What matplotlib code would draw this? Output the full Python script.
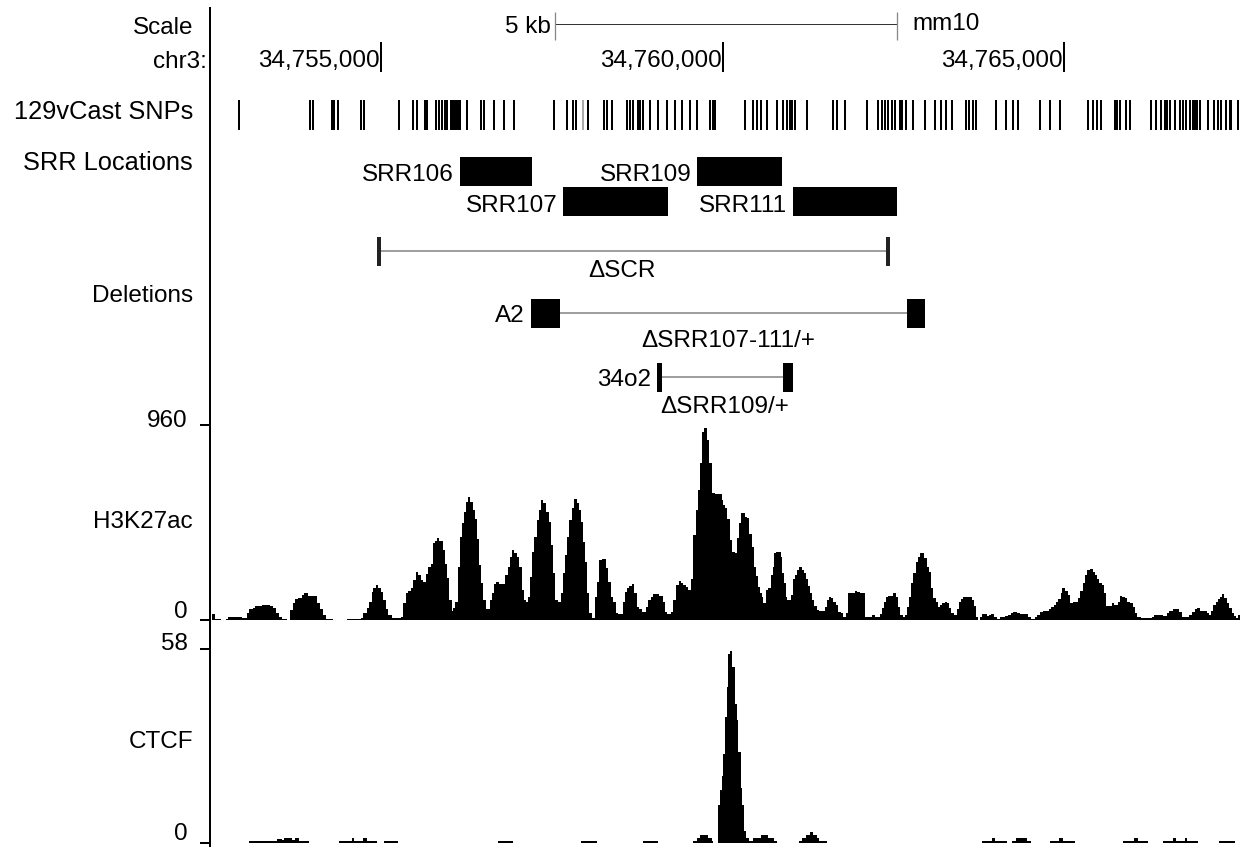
import numpy as np
import matplotlib
matplotlib.use("Agg")
import matplotlib.pyplot as plt

plt.rcParams['font.family'] = ['Liberation Sans', 'DejaVu Sans']
FS = 17.5

# ---------------- data ----------------
CHROM = "chr3"
ASSEMBLY = "mm10"
WIN_START = 34752526
WIN_END = 34767576

ruler_ticks = [34755000, 34760000, 34765000]
scale_bar_start = 34757547
scale_bar_end = 34762554
scale_bar_label = "5 kb"

snp_positions = [
    34752917, 34753961, 34754004, 34754283, 34754312, 34754370, 34754707, 34754751,
    34755259, 34755468, 34755527, 34755649, 34755673, 34755805, 34755845, 34755893,
    34755941, 34755966, 34756025, 34756047, 34756069, 34756091, 34756113, 34756142,
    34756164, 34756259, 34756468, 34756504, 34756650, 34756796, 34756943, 34757528,
    34757719, 34757815, 34757855, 34758035, 34758265, 34758304, 34758377, 34758601,
    34758645, 34758694, 34758767, 34758792, 34758840, 34758938, 34759060, 34759183,
    34759304, 34759402, 34759524, 34759622, 34759817, 34759860, 34759890, 34760329,
    34760450, 34760509, 34760559, 34760647, 34760793, 34760890, 34760948, 34760988,
    34761024, 34761061, 34761232, 34761622, 34761680, 34761793, 34762111, 34762281,
    34762330, 34762379, 34762427, 34762477, 34762525, 34762594, 34762632, 34762690,
    34762788, 34762960, 34763106, 34763203, 34763276, 34763364, 34763569, 34763608,
    34763667, 34763715, 34764008, 34764154, 34764252, 34764326, 34764643, 34764790,
    34764936, 34765350, 34765424, 34765482, 34765545, 34765741, 34765775, 34765815,
    34765911, 34765970, 34766277, 34766350, 34766424, 34766473, 34766507, 34766547,
    34766620, 34766693, 34766741, 34766781, 34766839, 34766888, 34766917, 34766946,
    34766986, 34767107, 34767191, 34767254, 34767298, 34767375, 34767425, 34767449,
    34767546,
]
snp_grey_positions = [34757962]

srr_names = ["SRR106", "SRR107", "SRR109", "SRR111"]
srr_start = [34756157, 34757669, 34759631, 34761032]
srr_end = [34757206, 34759197, 34760871, 34762554]
srr_row = [0, 1, 0, 1]

del_names = ["\u0394SCR", "\u0394SRR107-111/+", "\u0394SRR109/+"]
del_left_names = ["", "A2", "34o2"]
del_block1 = [(34754946, 34755000), (34757196, 34757621), (34759045, 34759109)]
del_block2 = [(34762394, 34762452), (34762701, 34762964), (34760885, 34761032)]

h3k27ac_max = 960
h3k27ac_start_bp = [
    0, 44, 127, 205, 239, 434, 507, 546, 605, 629, 727, 849, 898, 937, 985, 1020,
    1103, 1142, 1181, 1215, 1264, 1312, 1347, 1410, 1532, 1581, 1620, 1669, 1766,
    1981, 2176, 2215, 2264, 2298, 2337, 2362, 2396, 2435, 2474, 2508, 2542, 2581,
    2630, 2767, 2801, 2835, 2869, 2908, 2947, 2981, 3020, 3055, 3084, 3128, 3167,
    3201, 3240, 3264, 3299, 3328, 3377, 3411, 3445, 3474, 3508, 3533, 3562, 3596,
    3630, 3655, 3689, 3718, 3743, 3777, 3816, 3845, 3874, 3904, 3933, 3972, 4011,
    4070, 4099, 4133, 4162, 4196, 4231, 4289, 4328, 4362, 4397, 4426, 4460, 4494,
    4533, 4567, 4597, 4621, 4655, 4689, 4714, 4753, 4787, 4816, 4850, 4889, 4928,
    4958, 4997, 5026, 5070, 5104, 5133, 5168, 5202, 5231, 5265, 5299, 5338, 5373,
    5402, 5436, 5460, 5495, 5524, 5558, 5607, 5631, 5665, 5704, 5768, 5802, 5836,
    5875, 5914, 5948, 6012, 6046, 6080, 6109, 6144, 6178, 6217, 6256, 6290, 6353,
    6388, 6422, 6461, 6549, 6597, 6632, 6666, 6715, 6754, 6793, 6832, 6866, 6900,
    6939, 6973, 7007, 7046, 7081, 7115, 7144, 7178, 7207, 7251, 7281, 7315, 7364,
    7461, 7486, 7510, 7544, 7583, 7618, 7657, 7681, 7715, 7740, 7808, 7837, 7866,
    7901, 7935, 7964, 7998, 8023, 8047, 8071, 8106, 8135, 8184, 8208, 8232, 8257,
    8325, 8350, 8374, 8403, 8423, 8472, 8501, 8530, 8559, 8589, 8637, 8667, 8696,
    8725, 8755, 8784, 8813, 8852, 8886, 8974, 8999, 9028, 9062, 9096, 9130, 9169,
    9204, 9243, 9282, 9316, 9340, 9413, 9448, 9487, 9560, 9657, 9706, 9779, 9813,
    9843, 9867, 9901, 9975, 10009, 10038, 10072, 10111, 10145, 10170, 10199, 10233,
    10267, 10302, 10331, 10365, 10428, 10463, 10497, 10526, 10560, 10599, 10633,
    10658, 10692, 10731, 10755, 10790, 10824, 10863, 10902, 10936, 10960, 10999,
    11121, 11156, 11185, 11219, 11243, 11268, 11341, 11370, 11400, 11448, 11487,
    11536, 11575, 11609, 11658, 11692, 11731, 11780, 11829, 11951, 11985, 12049,
    12083, 12122, 12161, 12258, 12288, 12327, 12356, 12390, 12424, 12449, 12488,
    12527, 12561, 12600, 12673, 12707, 12746, 12781, 12815, 12854, 12893, 12927,
    12961, 12990, 13025, 13059, 13088, 13171, 13205, 13269, 13293, 13327, 13366,
    13400, 13439, 13478, 13513, 13547, 13596, 13659, 13757, 13791, 13927, 13976,
    14015, 14064, 14162, 14196, 14245, 14308, 14342, 14391, 14425, 14464, 14562,
    14591, 14620, 14659, 14693, 14723, 14757, 14791, 14820, 14855, 14894, 14928,
    14962, 14991, 15025,
]
h3k27ac_value = [
    28, 3, np.nan, 3, 13, 8, 36, 54, 57, 69, 74, 71, 61, 36, 13, 3,
    2, 49, 82, 102, 107, 123, 131, 118, 85, 53, 25, 3, np.nan,
    3, 8, 36, 57, 90, 139, 156, 172, 156, 139, 98, 53, 25,
    8, 16, 82, 131, 144, 156, 197, 238, 222, 197, 189, 226, 263,
    276, 381, 391, 402, 391, 345, 276, 205, 98, 46, 57, 90, 263,
    410, 476, 533, 583, 604, 583, 542, 496, 397, 271, 181, 98, 54,
    98, 131, 177, 189, 176, 177, 222, 263, 312, 345, 328, 309, 263,
    148, 98, 90, 115, 213, 336, 410, 492, 542, 591, 574, 533, 484,
    369, 233, 98, 90, 131, 230, 320, 410, 492, 550, 596, 574, 542,
    484, 386, 287, 131, 36, 8, 115, 189, 295, 300, 254, 189, 115,
    90, 33, 30, 90, 139, 156, 167, 177, 131, 66, 53, 41, 62,
    98, 115, 128, 118, 90, 41, 30, 41, 98, 172, 192, 181, 172,
    161, 148, 200, 418, 542, 640, 771, 927, 944, 886, 771, 627, 620,
    591, 566, 550, 496, 394, 336, 328, 402, 476, 525, 509, 500, 423,
    361, 263, 217, 164, 131, 115, 85, 148, 156, 222, 263, 328, 333,
    312, 230, 181, 115, 98, 123, 200, 222, 246, 263, 246, 233, 200,
    167, 131, 98, 69, 49, 44, 66, 98, 115, 107, 90, 74, 41,
    33, 16, 33, 131, 135, 144, 136, 131, 16, 25, 16, 30, 57,
    90, 115, 118, 131, 115, 66, 25, 16, 25, 66, 115, 181,
    230, 287, 312, 328, 304, 263, 238, 156, 107, 90, 62,
    74, 82, 90, 82, 57, 36, 25, 53, 90, 102, 115,
    98, 69, 16, 2, 16, 30, 20, 25, 30, 13, 3,
    13, 16, 20, 26, 36, 41, 36, 30, 13, 3, 16,
    25, 41, 44, 54, 62, 74, 90, 102, 131, 156, 144,
    123, 85, 90, 107, 144, 181, 222, 246, 251, 238, 222,
    200, 184, 172, 131, 69, 82, 74, 90, 118, 115, 107,
    90, 85, 66, 33, 16, 11, 8, 16, 25, 20, 33,
    46, 54, 41, 16, 13, 25, 41, 53, 57, 46, 33,
    25, 46, 74, 90, 102, 115, 128, 107, 82, 57, 33,
    20, 8, 25,
]

ctcf_max = 58
ctcf_start_bp = [
    546, 956, 1020, 1054, 1166, 1215, 1278, 1425, 1864, 2044, 2079, 2205, 2274,
    2420, 2518, 2723, 4192, 4411, 5397, 5631, 6305, 6529, 7046, 7105, 7144, 7266,
    7315, 7339, 7403, 7437, 7461, 7486, 7510, 7535, 7559, 7583, 7608, 7657, 7681,
    7705, 7740, 7764, 7788, 7818, 7862, 7925, 8032, 8145, 8228, 8267, 8598, 8633,
    8691, 8755, 8803, 8852, 8891, 8999, 11268, 11414, 11463, 11634, 11707, 11770,
    11936, 11985, 12268, 12405, 12463, 12634, 13342, 13498, 13561, 13708, 13918,
    14064, 14113, 14245, 14279, 14440, 14747, 14976,
]
ctcf_value = [
    0.5, 1.2, 0.8, 1.5, 0.8, 1.5, 0.5, np.nan, 0.5, 1.5, 0.5, 1.5, 0.5,
    np.nan, 0.5, np.nan, 0.5, np.nan, 0.5, np.nan, 0.5, np.nan, 0.5, 1.5, 2.5, 1.5,
    0.5, np.nan, 11.5, 15.7, 20, 26.5, 37.7, 46.5, 56.5, 57.3, 52.5, 41.5, 36.7,
    27.3, 16.5, 11.5, 3.5, 1.5, 0.5, 1.5, 2.5, 1.5, 0.5, np.nan, 0.5, 1.5,
    2.5, 3.3, 2.5, 1.5, 0.5, np.nan, 0.5, 1.5, 0.5, np.nan, 0.5, 1.5,
    0.5, np.nan, 0.5, 1.5, 0.5, np.nan, 0.5, 1.5, 0.5, np.nan, 0.5,
    1.5, 0.5, 1.5, 0.5, np.nan, 0.5, np.nan,
]

# ---------------- layout ----------------
W, H = 1243, 847
fig = plt.figure(figsize=(W / 100, H / 100), dpi=100)
fig.patch.set_facecolor("white")


def px_rect(x0, y0, x1, y1):
    return [x0 / W, 1 - y1 / H, (x1 - x0) / W, (y1 - y0) / H]


PT = 72 / 100  # points per pixel

ov = fig.add_axes([0, 0, 1, 1])
ov.set_xlim(0, W)
ov.set_ylim(H, 0)
ov.axis("off")

ax = fig.add_axes(px_rect(212, 0, 1240, H))
ax.set_xlim(WIN_START, WIN_END)
ax.set_ylim(H, 0)
ax.axis("off")

# separator and left labels
ov.plot([210, 210], [7, H], color="black", lw=2 * PT, solid_capstyle="butt",
        antialiased=False)
left_labels = [
    ("Scale", 193, 34.5), ("chr3:", 207, 67.5), ("129vCast SNPs", 193, 119),
    ("SRR Locations", 193, 170), ("Deletions", 193, 301.5),
    ("H3K27ac", 193, 528.5), ("CTCF", 193, 748.5),
]
for txt, x, y in left_labels:
    if txt == "chr3:":
        txt = CHROM + ":"
    fs = FS + 0.8 if txt in ("129vCast SNPs", "SRR Locations") else FS
    ov.text(x, y, txt, ha="right", va="baseline", fontsize=fs)

# --- scale bar
ax.hlines(24, scale_bar_start, scale_bar_end, color="#333333", lw=1.0 * PT)
ax.vlines([scale_bar_start, scale_bar_end], 12, 40, color="#888888", lw=1.3 * PT)
ax.annotate(scale_bar_label, (scale_bar_start, 33), xytext=(-4, 0),
            textcoords="offset pixels", ha="right", va="baseline", fontsize=FS)
ax.annotate(ASSEMBLY, (scale_bar_end, 30), xytext=(15, 0),
            textcoords="offset pixels", ha="left", va="baseline", fontsize=FS)

# --- ruler
ax.vlines(ruler_ticks, 42, 72, color="black", lw=2 * PT, antialiased=False)
for t in ruler_ticks:
    ax.annotate(f"{t:,}", (t, 66.5), xytext=(-1, 0), textcoords="offset pixels",
                ha="right", va="baseline", fontsize=FS)

# --- SNPs
ax.vlines(snp_positions, 100, 130, color="black", lw=2 * PT, antialiased=False)
ax.vlines(snp_grey_positions, 100, 130, color="#aaaaaa", lw=2 * PT,
          antialiased=False)

# --- SRR locations
row_top = [156.7, 187.3]
for name, s, e, r in zip(srr_names, srr_start, srr_end, srr_row):
    ax.bar(s, 29, width=e - s, bottom=row_top[r], align="edge",
           color="black", lw=0)
    ax.annotate(name, (s, row_top[r] + 24.5), xytext=(-6, 0),
                textcoords="offset pixels", ha="right", va="baseline", fontsize=FS)

# --- deletions
del_rows = [(236.7, 29.3, 251, 276.7), (299.0, 28.7, 312.7, 346.7),
            (362.7, 29.0, 377, 413.3)]
for i, (name, lname, b1, b2) in enumerate(zip(del_names, del_left_names,
                                               del_block1, del_block2)):
    top, h, yline, ylab = del_rows[i]
    col = "#222222" if i == 0 else "black"
    ax.hlines(yline, b1[1], b2[0], color="#808080", lw=1.5 * PT)
    for (s, e) in (b1, b2):
        ax.bar(s, h, width=e - s, bottom=top, align="edge", color=col, lw=0)
    if lname:
        ax.annotate(lname, (b1[0], top + h / 2 + 8.6), xytext=(-6, 0),
                    textcoords="offset pixels", ha="right", va="baseline",
                    fontsize=FS)
    cx = (b1[0] + b2[1]) / 2
    if i == 0:
        cx = cx - 12 * (WIN_END - WIN_START) / 1028
    ax.text(cx, ylab, name, ha="center", va="baseline", fontsize=FS)

# --- signal tracks
def signal_track(y0, y1, starts, values, ymax, label_top_y, label_bot_y):
    a = fig.add_axes(px_rect(212, y0, 1240, y1))
    a.set_xlim(WIN_START, WIN_END)
    a.set_ylim(0, ymax)
    a.axis("off")
    edges = np.array(list(starts) + [WIN_END - WIN_START], dtype=float) + WIN_START
    a.stairs(np.array(values, dtype=float), edges, fill=True, color="black",
             baseline=0, lw=0)
    for y in (y0, y1):
        ov.plot([200, 210], [y, y], color="black", lw=2 * PT, solid_capstyle="butt",
                antialiased=False)
    ov.text(188, label_top_y, f"{ymax:g}", ha="right", va="baseline", fontsize=FS)
    ov.text(188, label_bot_y, "0", ha="right", va="baseline", fontsize=FS)
    return a


signal_track(425, 620, h3k27ac_start_bp, h3k27ac_value, h3k27ac_max, 427, 617.5)
signal_track(649, 843, ctcf_start_bp, ctcf_value, ctcf_max, 650, 840.5)

fig.savefig("out.png", dpi=100, facecolor="white")
